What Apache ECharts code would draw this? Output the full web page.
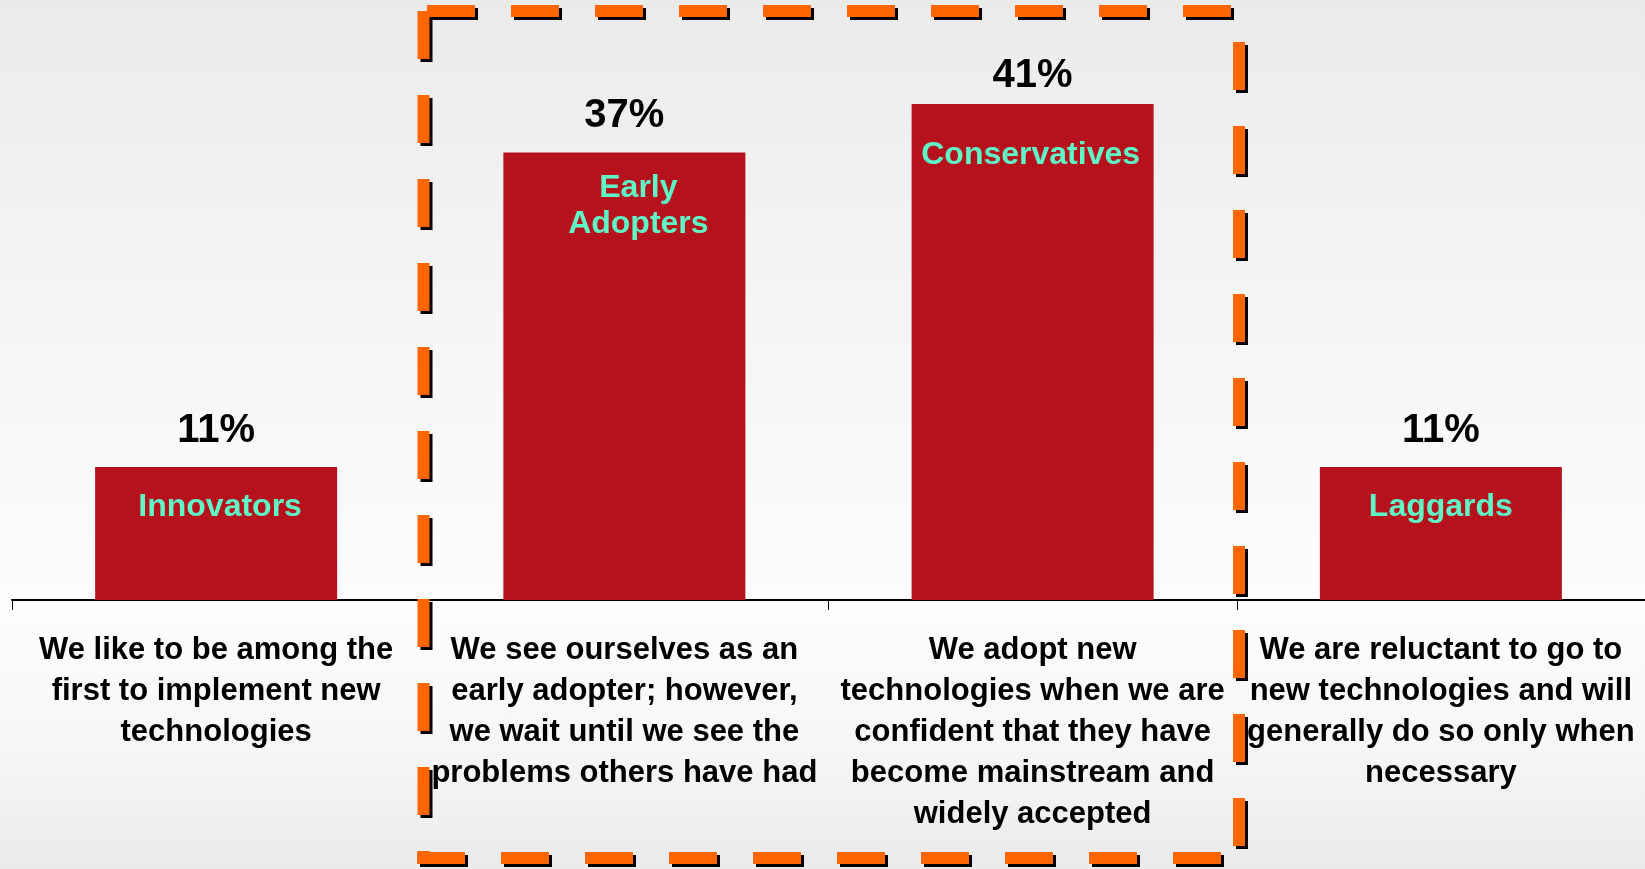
<!DOCTYPE html>
<html>
<head>
<meta charset="utf-8">
<script src="https://cdn.jsdelivr.net/npm/echarts@6/dist/echarts.min.js"></script>
<style>
  html, body { margin: 0; padding: 0; }
  body {
    width: 1645px; height: 869px; overflow: hidden;
    background: linear-gradient(to bottom, #ebebeb 0%, #f6f6f6 40%, #fdfdfd 70%, #f7f7f7 85%, #ebebeb 100%);
  }
  #chart { width: 1645px; height: 869px; }
</style>
</head>
<body>
<div id="chart"></div>
<script>
// ---- data ----
const categories = [
  'We like to be among the\nfirst to implement new\ntechnologies',
  'We see ourselves as an\nearly adopter; however,\nwe wait until we see the\nproblems others have had',
  'We adopt new\ntechnologies when we are\nconfident that they have\nbecome mainstream and\nwidely accepted',
  'We are reluctant to go to\nnew technologies and will\ngenerally do so only when\nnecessary'
];
const values = [11, 37, 41, 11];
const valueLabels = ['11%', '37%', '41%', '11%'];
const segmentNames = ['Innovators', 'Early\nAdopters', 'Conservatives', 'Laggards'];

// ---- layout (styling only) ----
const valueLabelDistance = [16, 16, 8, 16];
const nameLabelDistance = [22, 18, 33, 22];
const nameLabelOffsetX = [4, 14, -2, 0];
const FONT = '"Liberation Sans", Arial, sans-serif';

const chart = echarts.init(document.getElementById('chart'), null, { renderer: 'canvas' });

function dashedLine(x1, y1, x2, y2) {
  const common = { lineWidth: 12, lineDash: [48, 36], lineCap: 'butt' };
  return [
    { type: 'line', z: 100, silent: true,
      shape: { x1: x1 + 3, y1: y1 + 3, x2: x2 + 3, y2: y2 + 3 },
      style: Object.assign({ stroke: '#000' }, common) },
    { type: 'line', z: 101, silent: true,
      shape: { x1, y1, x2, y2 },
      style: Object.assign({ stroke: '#FF6600' }, common) }
  ];
}

const graphics = [].concat(
  dashedLine(423.5, 11, 423.5, 853),
  dashedLine(1239, 42, 1239, 865),
  dashedLine(427, 11, 1245, 11),
  dashedLine(417, 858, 1245, 858)
);

chart.setOption({
  backgroundColor: 'transparent',
  animation: false,
  grid: { left: 12, top: 0, width: 1634, height: 600, containLabel: false },
  xAxis: {
    type: 'category',
    data: categories,
    axisLine: { show: true, lineStyle: { color: '#000', width: 2 } },
    axisTick: { show: true, length: 10, lineStyle: { color: '#000', width: 1 } },
    axisLabel: {
      interval: 0, margin: 30, color: '#000', fontSize: 31, lineHeight: 41,
      fontWeight: 'bold', fontFamily: FONT, align: 'center'
    },
    splitLine: { show: false }
  },
  yAxis: { type: 'value', min: 0, max: 49.6, show: false, splitLine: { show: false } },
  series: [
    {
      type: 'bar',
      data: values.map((v, i) => ({ value: v, label: { distance: valueLabelDistance[i] } })),
      barWidth: 242,
      itemStyle: { color: '#B5121D' },
      label: {
        show: true, position: 'top',
        formatter: p => valueLabels[p.dataIndex],
        color: '#000', fontSize: 40, lineHeight: 40, fontWeight: 'bold', fontFamily: FONT
      }
    },
    {
      type: 'bar',
      barGap: '-100%',
      barWidth: 242,
      z: 3,
      data: values.map((v, i) => ({
        value: v,
        label: { distance: nameLabelDistance[i], offset: [nameLabelOffsetX[i], 0] }
      })),
      itemStyle: { color: 'rgba(0,0,0,0)' },
      label: {
        show: true, position: 'insideTop',
        formatter: p => segmentNames[p.dataIndex],
        color: '#5FF7C6', fontSize: 32, lineHeight: 36, fontWeight: 'bold', fontFamily: FONT, align: 'center'
      }
    }
  ],
  graphic: graphics
});
</script>
</body>
</html>
